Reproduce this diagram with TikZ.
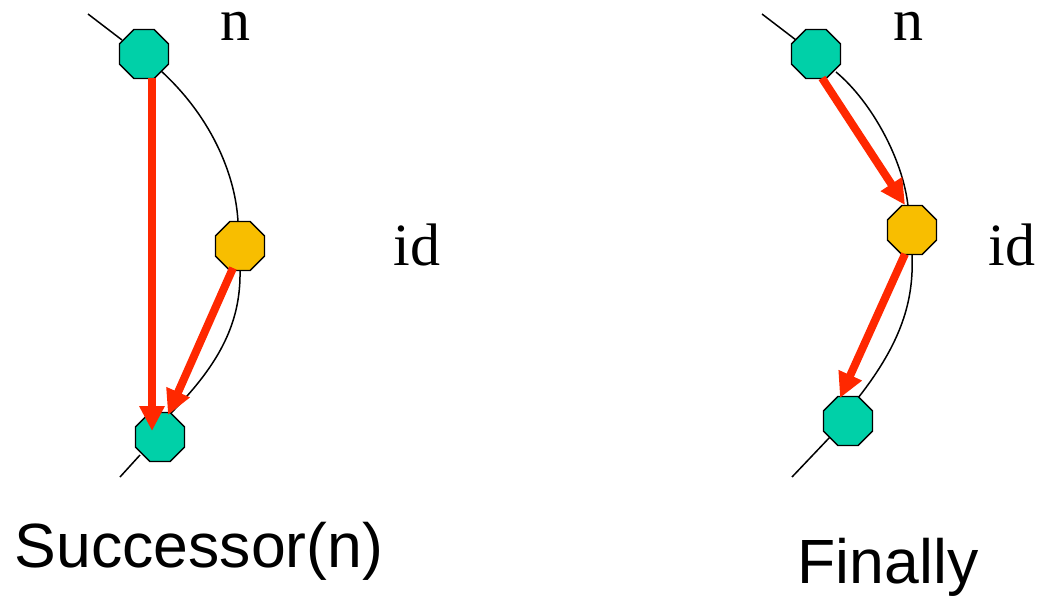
\documentclass[tikz,border=0pt]{standalone}
\usepackage{fontspec}
\setmainfont{Liberation Serif}
\newfontfamily\labelfont{Liberation Sans}
\usetikzlibrary{shapes.geometric,arrows.meta}
\definecolor{nodegreen}{RGB}{0,208,168}
\definecolor{nodeyellow}{RGB}{248,190,0}
\definecolor{arrowred}{RGB}{255,40,0}
\tikzset{
  oct/.style={regular polygon, regular polygon sides=8, draw=black, line width=1.3pt, inner sep=0pt, minimum size=53pt},
  gnode/.style={oct, fill=nodegreen},
  ynode/.style={oct, fill=nodeyellow},
  ring/.style={draw=black, line width=1.5pt},
  redarrow/.style={draw=arrowred, line width=8pt, -{Triangle[width=24pt,length=25pt]}},
  serif/.style={font=\fontsize{60}{60}\selectfont, anchor=base, inner sep=0pt},
  caption/.style={font=\labelfont\fontsize{62.5}{62.5}\selectfont, anchor=base, inner sep=0pt}
}
\begin{document}
\begin{tikzpicture}[x=1pt,y=-1pt]
\useasboundingbox (0,0) rectangle (1040,597);
% ---------- left panel ----------
\coordinate (L0) at (88,14);
\coordinate (L4) at (120,477);
\coordinate (La) at (160,70);
\coordinate (Lb) at (238,222);
\coordinate (Lc) at (240,270);
\coordinate (Ld) at (170,414);
\coordinate (Le) at (140,455);
\coordinate (Lt) at (122,40);
\draw[ring] (L0) -- (Lt);
\draw[ring] (La) .. controls (215,120) and (236,180) .. (Lb);
\draw[ring] (Lc) .. controls (241,320) and (222,362) .. (Ld);
\draw[ring] (Le) -- (L4);
\node[gnode] (ln) at (144,54) {};
\node[ynode] (lid) at (240,246) {};
\node[gnode] (ls) at (160,437) {};
\coordinate (A1s) at (152,78);
\coordinate (A1e) at (152,431);
\coordinate (A2s) at (233,268);
\coordinate (A2e) at (168,415);
\draw[redarrow] (A1s) -- (A1e);
\draw[redarrow] (A2s) -- (A2e);
\node[serif] (tn1) at (235,40) {n};
\node[serif] (tid1) at (417,265) {id};
\node[caption] (cap1) at (199,567) {Successor(n)};
% ---------- right panel ----------
\coordinate (R0) at (762,14);
\coordinate (Rt) at (796,40);
\coordinate (Ra) at (836,72);
\coordinate (Rb) at (908,206);
\coordinate (Rc) at (912,254);
\coordinate (Rd) at (858,398);
\coordinate (Re) at (830,437);
\coordinate (R4) at (792,477);
\draw[ring] (R0) -- (Rt);
\draw[ring] (Ra) .. controls (872,102) and (903,160) .. (Rb);
\draw[ring] (Rc) .. controls (914,300) and (902,342) .. (Rd);
\draw[ring] (Re) -- (R4);
\node[gnode] (rn) at (816,54) {};
\node[ynode] (rid) at (912,230) {};
\node[gnode] (rs) at (848,421) {};
\coordinate (B1s) at (822,78);
\coordinate (B1e) at (905,205);
\coordinate (B2s) at (905,254);
\coordinate (B2e) at (840,398);
\draw[redarrow] (B1s) -- (B1e);
\draw[redarrow] (B2s) -- (B2e);
\node[serif] (tn2) at (908,40) {n};
\node[serif] (tid2) at (1012,265) {id};
\node[caption] (cap2) at (888,583) {Finally};
\end{tikzpicture}
\end{document}
